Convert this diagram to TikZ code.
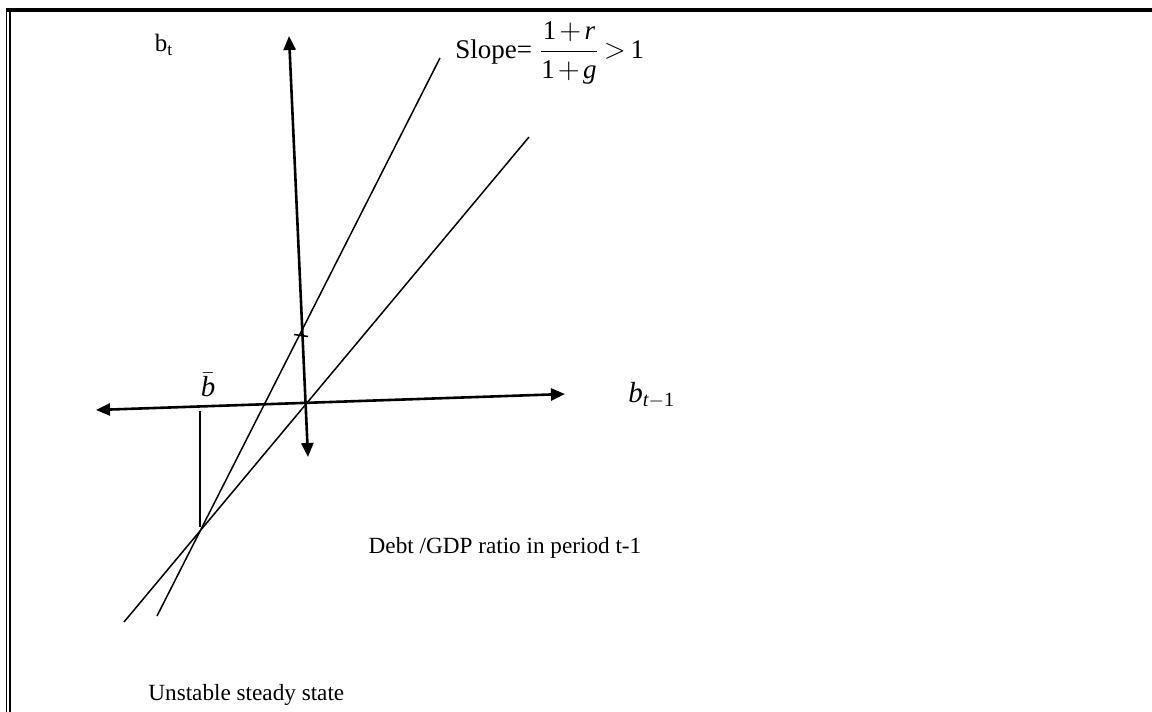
\documentclass[tikz,border=0pt]{standalone}
\usepackage{amsmath}
\usepackage{fontspec}
\setmainfont{Liberation Serif}
\usetikzlibrary{arrows.meta, positioning}

\begin{document}
\begin{tikzpicture}[x=0.5pt, y=-0.5pt,
    axis/.style = {line width=1.3pt, {Triangle[length=7pt, width=6pt]}-{Triangle[length=7pt, width=6pt]}},
    curve/.style = {line width=0.75pt},
    lbl/.style = {inner sep=0pt, font=\fontsize{11.6}{13}\selectfont}]
    \useasboundingbox (0,0) rectangle (1152,712);

    % frame
    \draw[line width=2pt] (6,9.5) -- (1152,9.5);
    \draw[line width=0.7pt] (6.7,7.5) -- (6.7,712);
    \draw[line width=1.4pt] (10,10) -- (10,712);

    % points
    \coordinate (ytop) at (289,36);
    \coordinate (ybot) at (308,457);
    \coordinate (xleft) at (96,410);
    \coordinate (xright) at (565,394);
    \coordinate (steeptop) at (440,58);
    \coordinate (steepbot) at (157,616);
    \coordinate (diagtop) at (529,137);
    \coordinate (diagbot) at (124,622);
    \coordinate (ss) at (200,527);
    \coordinate (ssup) at (200,411);
    \coordinate (tickl) at (294,334.5);
    \coordinate (tickr) at (308,336.5);

    % axes
    \draw[axis] (ybot) -- (ytop);
    \draw[axis] (xleft) -- (xright);

    % lines
    \draw[curve] (steepbot) -- (steeptop);
    \draw[curve] (diagbot) -- (diagtop);
    \draw[curve] (ssup) -- (ss);
    \draw[curve] (tickl) -- (tickr);

    % labels
    \node[lbl, font=\fontsize{12.5}{14}\selectfont] (bt) at (164,45) {b\textsubscript{t}};
    \node[lbl, anchor=west, font=\fontsize{13.5}{16}\selectfont] (slope) at (455,53) {Slope= $\dfrac{\text{1}\mskip2mu{+}\mskip2mu\textit{r}}{\text{1}\mskip2mu{+}\mskip2mu\textit{g}}\mskip3mu{>}\mskip3mu\text{1}$};
    \node[lbl, font=\fontsize{14.5}{16}\selectfont] (bbar) at (208,385) {$\bar{\textit{b}}$};
    \node[lbl, anchor=west, font=\fontsize{14.5}{16}\selectfont] (blag) at (628,395) {$\textit{b}_{\textit{t}-\text{1}}$};
    \node[lbl] (debt) at (505,548) {Debt /GDP ratio in period t-1};
    \node[lbl, anchor=west] (unstable) at (148,695) {Unstable steady state};
\end{tikzpicture}
\end{document}
